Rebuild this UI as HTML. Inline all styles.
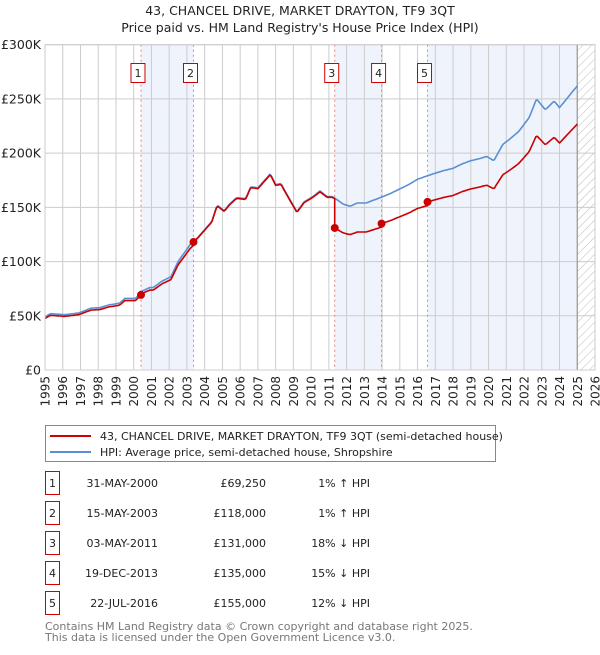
<!DOCTYPE html>
<html><head><meta charset="utf-8"><style>
body{margin:0;background:#fff;font-family:"Liberation Sans","DejaVu Sans",sans-serif;}
svg text{font-family:"DejaVu Sans","Liberation Sans",sans-serif;}
</style></head><body>
<svg id="chart" width="600" height="650" viewBox="0 0 600 650" xmlns="http://www.w3.org/2000/svg">
<defs><pattern id="hatch" width="6" height="6" patternUnits="userSpaceOnUse" patternTransform="rotate(45)"><line x1="0" y1="0" x2="0" y2="6" stroke="#bbb" stroke-width="1"/></pattern></defs>
<text x="300" y="15" text-anchor="middle" font-size="12.5" fill="#222">43, CHANCEL DRIVE, MARKET DRAYTON, TF9 3QT</text>
<text x="300" y="32" text-anchor="middle" font-size="12.5" fill="#222">Price paid vs. HM Land Registry's House Price Index (HPI)</text>
<g id="plot"></g>
<g>
<rect x="45.5" y="425.5" width="450" height="36" fill="#fff" stroke="#888"/>
<line x1="50" y1="436" x2="91" y2="436" stroke="#cc0000" stroke-width="2"/>
<text x="100" y="440" font-size="11" fill="#222">43, CHANCEL DRIVE, MARKET DRAYTON, TF9 3QT (semi-detached house)</text>
<line x1="50" y1="452" x2="91" y2="452" stroke="#5b8fd4" stroke-width="2"/>
<text x="100" y="456" font-size="11" fill="#222">HPI: Average price, semi-detached house, Shropshire</text>
</g>
<g id="table" font-size="11" fill="#222"></g>
<text x="45" y="630" font-size="11" fill="#777">Contains HM Land Registry data © Crown copyright and database right 2025.</text>
<text x="45" y="641" font-size="11" fill="#777">This data is licensed under the Open Government Licence v3.0.</text>
</svg>
<script>
const hpiYears=[1995.0,1995.3,1996.1,1996.6,1996.9,1997.6,1998.1,1998.6,1999.2,1999.5,2000.1,2000.5,2000.9,2001.1,2001.6,2002.1,2002.5,2003.2,2003.6,2004.4,2004.7,2005.1,2005.4,2005.8,2006.3,2006.6,2007.0,2007.7,2008.0,2008.3,2008.6,2009.2,2009.6,2010.1,2010.5,2010.9,2011.2,2011.55,2011.8,2012.2,2012.6,2013.1,2013.9,2014.5,2015.0,2015.5,2016.0,2016.9,2017.5,2018.0,2018.5,2019.0,2019.5,2019.9,2020.3,2020.8,2021.2,2021.7,2022.3,2022.7,2023.2,2023.7,2024.0,2024.6,2025.0];
const hpiValues=[49,52,51,52,52.6,57,57.5,60,61.6,66,66,73,76,76,82,86,100,116,122,137,152,147,153,159,158,169,168,181,171,172,163,146,155,160,165,160,160,156,153,151,154,154,159,163,167,171,176,181,184,186,190,193,195,197,193,208,213,220,233,250,240,248,242,254,262];
const saleLabels=["1","2","3","4","5"];
const saleYears=[2000.41,2003.37,2011.33,2013.97,2016.56];
const salePrices=[69.25,118,131,135,155];
const saleDates=["31-MAY-2000","15-MAY-2003","03-MAY-2011","19-DEC-2013","22-JUL-2016"];
const salePriceText=["£69,250","£118,000","£131,000","£135,000","£155,000"];
const saleHpiText=["1% ↑ HPI","1% ↑ HPI","18% ↓ HPI","15% ↓ HPI","12% ↓ HPI"];
const yTicks=[0,50,100,150,200,250,300];
const yTickLabels=["£0","£50K","£100K","£150K","£200K","£250K","£300K"];
const xTicks=[1995,1996,1997,1998,1999,2000,2001,2002,2003,2004,2005,2006,2007,2008,2009,2010,2011,2012,2013,2014,2015,2016,2017,2018,2019,2020,2021,2022,2023,2024,2025,2026];

const NS="http://www.w3.org/2000/svg";
const X0=45,X1=595,Y0=370,Y1=44.7;
const xs=y=>X0+(y-1995)/(2026-1995)*(X1-X0);
const ys=v=>Y0-v/300*(Y0-Y1);
const plot=document.getElementById('plot');
function mk(tag,attrs,parent){const e=document.createElementNS(NS,tag);for(const k in attrs)e.setAttribute(k,attrs[k]);(parent||plot).appendChild(e);return e;}
function hpiAt(t){if(t<=hpiYears[0])return hpiValues[0];for(let i=1;i<hpiYears.length;i++){if(t<=hpiYears[i]){const f=(t-hpiYears[i-1])/(hpiYears[i]-hpiYears[i-1]);return hpiValues[i-1]+f*(hpiValues[i]-hpiValues[i-1]);}}return hpiValues[hpiValues.length-1];}

// shaded bands
const bandPairs=[[0,1],[2,3],[4,-1]];
bandPairs.forEach(p=>{const a=xs(saleYears[p[0]]);const b=p[1]<0?xs(2025):xs(saleYears[p[1]]);
const r=mk('rect',{x:a,y:Y1,width:b-a,height:Y0-Y1,fill:'#eef3fc'});

});
// hatch
const h=mk('rect',{x:xs(2025),y:Y1,width:X1-xs(2025),height:Y0-Y1,fill:'url(#hatch)'});


// grid
xTicks.forEach((t,i)=>{const x=xs(t);
const l=mk('line',{x1:x,y1:Y1,x2:x,y2:Y0,stroke:'#ccc','stroke-width':1});


const tx=mk('text',{x:0,y:0,transform:`translate(${x+4.5},${Y0+6}) rotate(-90)`,'text-anchor':'end','font-size':12,fill:'#222'});
tx.textContent=t;

});
yTicks.forEach((v,i)=>{const y=ys(v);
const l=mk('line',{x1:X0,y1:y,x2:X1,y2:y,stroke:'#ccc','stroke-width':1});


const tx=mk('text',{x:X0-4,y:y+4.5,'text-anchor':'end','font-size':12.5,fill:'#222'});
tx.textContent=yTickLabels[i];

});
const bl=mk('line',{x1:xs(2025),y1:Y1,x2:xs(2025),y2:Y0,stroke:'#999','stroke-width':1.2});


// sale lines
saleYears.forEach((t,i)=>{const x=xs(t);
const l=mk('line',{x1:x,y1:Y1,x2:x,y2:Y0,stroke:'#f08080','stroke-width':1,'stroke-dasharray':'2,3'});


const r=mk('rect',{x:x-10,y:63.5,width:14,height:19,fill:'#fff',stroke:'#cc0000','stroke-width':1});


const tx=mk('text',{x:x-3,y:77,'text-anchor':'middle','font-size':11,fill:'#222'});
tx.textContent=saleLabels[i];

});
// HPI line
let pts=[];for(let t=1995;t<=2025.05;t+=1/12)pts.push(xs(t).toFixed(1)+','+ys(hpiAt(t)).toFixed(1));
const hp=mk('polyline',{points:pts.join(' '),fill:'none',stroke:'#5b8fd4','stroke-width':1.6});


// price line indexed from latest sale
function priceAt(t){let k=0;for(let i=0;i<saleYears.length;i++)if(t>=saleYears[i])k=i;return hpiAt(t)*salePrices[k]/hpiAt(saleYears[k]);}
pts=[];
const times=[];for(let t=1995;t<=2025.05;t+=1/12)times.push(t);
saleYears.forEach(s=>{times.push(s-0.0001);times.push(s);});
times.sort((a,b)=>a-b);
times.forEach(t=>pts.push(xs(t).toFixed(1)+','+ys(priceAt(t)).toFixed(1)));
const pp=mk('polyline',{points:pts.join(' '),fill:'none',stroke:'#cc0000','stroke-width':1.6});


saleYears.forEach((t,i)=>{const c=mk('circle',{cx:xs(t),cy:ys(salePrices[i]),r:4,fill:'#cc0000'});

});
const border=mk('rect',{x:X0,y:Y1,width:X1-X0,height:Y0-Y1,fill:'none',stroke:'#ccc'});


// table
const tb=document.getElementById('table');
const rowY=[483,513,543,573,603];
saleLabels.forEach((s,i)=>{const y=rowY[i];
const r=mk('rect',{x:45.5,y:y-11.5,width:14,height:23,fill:'#fff',stroke:'#cc0000'},tb);


const cells=[[52.5,'middle',s,'table-row-number'],[158,'end',saleDates[i],'table-date'],[266,'end',salePriceText[i],'table-price'],[370,'end',saleHpiText[i],'table-hpi-diff']];
cells.forEach(c=>{const t=mk('text',{x:c[0],y:y+4,'text-anchor':c[1],'font-size':11,fill:'#222'},tb);t.textContent=c[2];

});});
</script>
</body></html>
